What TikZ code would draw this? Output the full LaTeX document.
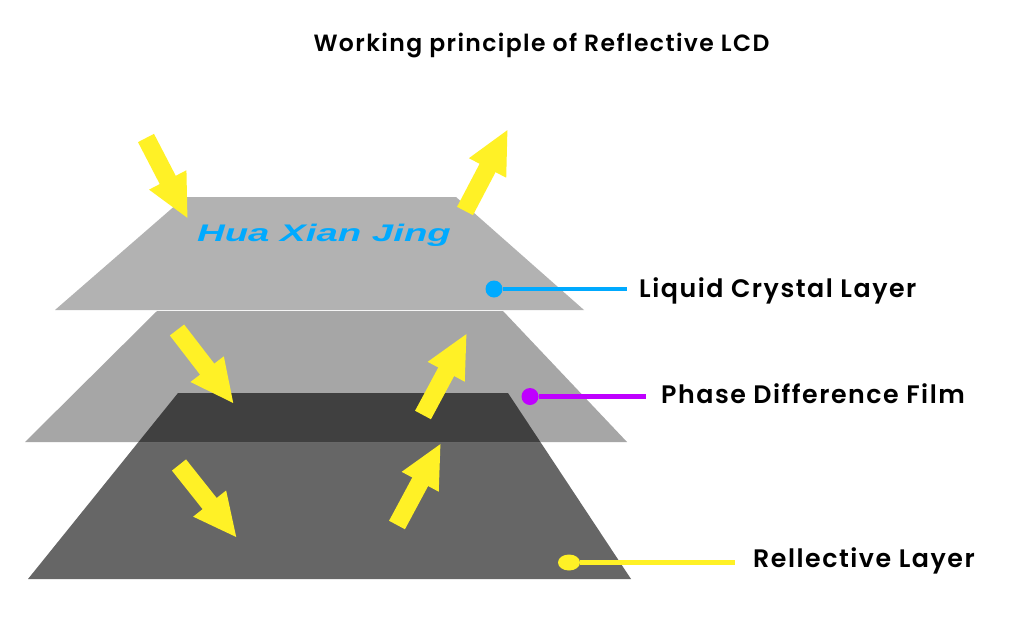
\documentclass[tikz,border=0pt]{standalone}
\usepackage{fontspec}
\setmainfont{Poppins}[UprightFont=* SemiBold, LetterSpace=6]
\newfontfamily\logofont{Liberation Sans}
\usetikzlibrary{arrows.meta, positioning, shapes.geometric}
\definecolor{lcdgray}{HTML}{B2B2B2}
\definecolor{filmgray}{HTML}{A6A6A6}
\definecolor{reflectgray}{HTML}{666666}
\definecolor{overlapgray}{HTML}{404040}
\definecolor{lightyellow}{HTML}{FFF126}
\definecolor{lcdblue}{HTML}{00AAFF}
\definecolor{filmpurple}{HTML}{BF00FF}
\tikzset{
  lightarrow/.style={lightyellow, line width=18pt, -{Triangle[length=44pt, width=38.5pt]}},
  leadline/.style={line width=4.5pt},
  leaddot/.style={circle, inner sep=0pt, minimum size=17pt},
  layerlabel/.style={black, inner sep=0pt, font=\fontsize{25.3}{25.3}\selectfont}
}

\begin{document}
\begin{tikzpicture}[x=1pt, y=-1pt]
  \useasboundingbox (0,0) rectangle (1024,640);
  \fill[white] (0,0) rectangle (1024,640);

  \node[black, font=\fontsize{23.5}{23.5}\selectfont] (title) at (541.5,45.5) {Working principle of Reflective LCD};

  % Three layers, back to front
  \fill[reflectgray] (178,393) -- (508,393) -- (631,579) -- (28,579) -- cycle;
  \fill[filmgray] (157,311) -- (503,311) -- (627,442) -- (25,442) -- cycle;
  \begin{scope}
    \clip (157,311) -- (503,311) -- (627,442) -- (25,442) -- cycle;
    \fill[overlapgray] (178,393) -- (508,393) -- (631,579) -- (28,579) -- cycle;
  \end{scope}
  \fill[lcdgray] (185,197) -- (456,197) -- (584,310) -- (55,310) -- cycle;

  \node[lcdblue, xscale=1.6, transform shape, font=\logofont\bfseries\itshape\fontsize{24}{24}\selectfont] (logo) at (324,235) {Hua Xian Jing};

  % Light going in and coming back
  \foreach \name/\tail/\tip in {
    intop/{146,138}/{188,219},
    outtop/{465,211}/{508,129},
    inmid/{177,330}/{234,404},
    outmid/{423,415}/{467,333},
    inlow/{179,465}/{237,538},
    outlow/{397,525}/{441,443}} {
    \coordinate (\name tail) at (\tail);
    \coordinate (\name tip) at (\tip);
    \draw[lightarrow] (\name tail) -- (\name tip);
  }

  % Leaders and labels
  \node[leaddot, fill=lcdblue] (lcddot) at (494,289) {};
  \coordinate (lcdend) at (627,289);
  \draw[leadline, lcdblue] (lcddot) -- (lcdend);
  \node[layerlabel, right=12pt of lcdend, yshift=-2pt] (lcdlabel) {Liquid Crystal Layer};

  \node[leaddot, fill=filmpurple] (filmdot) at (530,396.5) {};
  \coordinate (filmend) at (646,396.5);
  \draw[leadline, filmpurple] (filmdot) -- (filmend);
  \node[layerlabel, right=15pt of filmend, yshift=3pt] (filmlabel) {Phase Difference Film};

  \node[ellipse, inner sep=0pt, minimum width=22pt, minimum height=16pt, fill=lightyellow] (reflectdot) at (569,562.5) {};
  \coordinate (reflectend) at (735,562.5);
  \draw[leadline, lightyellow] (reflectdot) -- (reflectend);
  \node[layerlabel, right=18pt of reflectend, yshift=1.5pt] (reflectlabel) {Rellective Layer};
\end{tikzpicture}
\end{document}
